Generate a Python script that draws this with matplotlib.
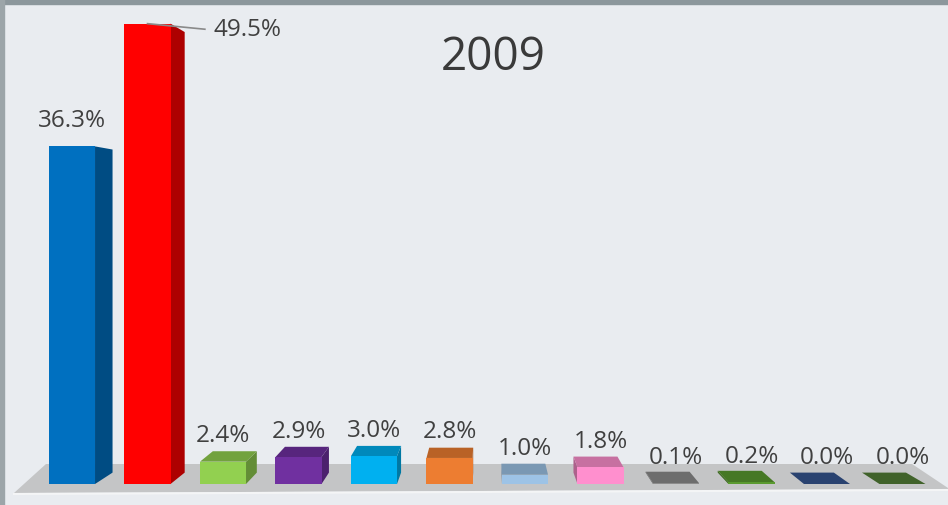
import numpy as np
import matplotlib
matplotlib.use('Agg')
import matplotlib.pyplot as plt
from matplotlib.patches import Polygon, Rectangle
from matplotlib.colors import to_rgb

plt.rcParams['font.family'] = ['Open Sans', 'DejaVu Sans']

# vote share per party, 2009
values = [36.3, 49.5, 2.4, 2.9, 3.0, 2.8, 1.0, 1.8, 0.1, 0.2, 0.0, 0.0]
labels = ['36.3%', '49.5%', '2.4%', '2.9%', '3.0%', '2.8%',
          '1.0%', '1.8%', '0.1%', '0.2%', '0.0%', '0.0%']
colors = ['#0070c0', '#ff0000', '#92d050', '#7030a0', '#00b0f0', '#ed7d31',
          '#9dc3e6', '#ff8fce', '#8c8c8c', '#5a9a30', '#34558f', '#527d36']
title = '2009'

bg = '#e9ecf0'
txt = '#404040'

fig = plt.figure(figsize=(9.48, 5.06), dpi=100, facecolor=bg)
ax = fig.add_axes([0, 0, 1, 1])
ax.set_facecolor(bg)
ax.set_xlim(-0.9536, 11.603)
ax.set_ylim(-2.258, 52.15)
ax.axis('off')

# frame strips along the top and left edges
ax.add_patch(Rectangle((0, 0.99), 1, 0.02, transform=ax.transAxes,
                       color='#8c979c', zorder=5))
ax.add_patch(Rectangle((0, 0), 0.0045, 1, transform=ax.transAxes,
                       color='#9ca5a9', zorder=5))

# floor
floor = np.array([[14, 494], [46, 465], [912, 465], [948, 489], [948, 490], [14, 494]])
floor = floor / np.array([948, 506])
floor[:, 1] = 1 - floor[:, 1]
ax.add_patch(Polygon(floor, closed=True, transform=ax.transAxes,
                     facecolor='#c4c5c6', edgecolor='none', zorder=1))
ax.plot([14 / 948, 948 / 948], [1 - 495 / 506, 1 - 491 / 506], transform=ax.transAxes,
        color='#f4f5f6', lw=1.5, zorder=1)

# simple perspective: back face recedes toward a vanishing point
vpx, vpy = 5.51, 28.5
tx, ty = 0.0446, 0.043
w = 0.61


def back(x, y):
    return (x + tx * (vpx - x), y + ty * (vpy - y))


def shade(c, f):
    return tuple(np.array(to_rgb(c)) * f)


for i, (v, c) in enumerate(zip(values, colors)):
    x0, x1 = i - w / 2, i + w / 2
    # side face
    if x1 < vpx:
        side = [(x1, 0), (x1, v), back(x1, v), back(x1, 0)]
    else:
        side = [(x0, 0), (x0, v), back(x0, v), back(x0, 0)]
    if v > 0:
        ax.add_patch(Polygon(side, closed=True, facecolor=shade(c, 0.68),
                             edgecolor='none', zorder=2))
    # top face
    if v < vpy:
        top = [(x0, v), (x1, v), back(x1, v), back(x0, v)]
        ax.add_patch(Polygon(top, closed=True, facecolor=shade(c, 0.78),
                             edgecolor='none', zorder=3))
    # front face
    if v > 0:
        ax.add_patch(Rectangle((x0, 0), w, v, facecolor=c, edgecolor='none', zorder=3))

for i, (v, lab) in enumerate(zip(values, labels)):
    if v == max(values):
        # leader line to the label of the tallest bar
        ax.plot([i, i + 0.76], [v, v - 0.6], color='#8a8a8a', lw=1.2, zorder=4)
        ax.text(i + 0.87, v - 0.6, lab, ha='left', va='center',
                fontsize=17.5, color=txt, zorder=6)
    else:
        ax.text(i, v + 2.85, lab, ha='center', va='center',
                fontsize=17.5, color=txt, zorder=6)

fig.text(0.5206, 0.886, title, ha='center', va='center', fontsize=33, color='#3a3a3a')

fig.savefig('out.png', dpi=100, facecolor=bg)
